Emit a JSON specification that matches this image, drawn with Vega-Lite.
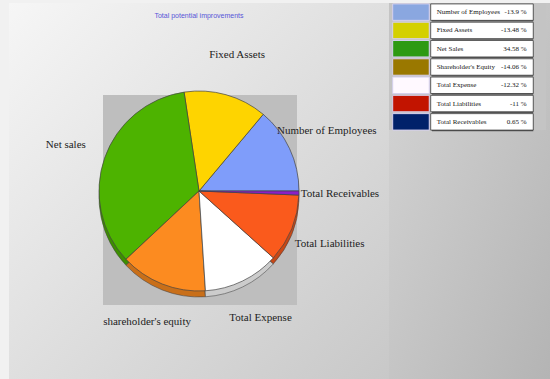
{
  "$schema": "https://vega.github.io/schema/vega-lite/v6.json",
  "background": "#f1f1f1",
  "padding": {"left": 9, "top": 3, "right": 0, "bottom": 0},
  "spacing": 0,
  "config": {"view": {"stroke": null}},
  "datasets": {
    "items": [
      {"name": "Number of Employees", "label": "Number of Employees", "value": 13.9, "pct": "-13.9 %", "k": 7},
      {"name": "Fixed Assets", "label": "Fixed Assets", "value": 13.48, "pct": "-13.48 %", "k": 6},
      {"name": "Net Sales", "label": "Net sales", "value": 34.58, "pct": "34.58 %", "k": 5},
      {"name": "Shareholder's Equity", "label": "shareholder's equity", "value": 14.06, "pct": "-14.06 %", "k": 4},
      {"name": "Total Expense", "label": "Total Expense", "value": 12.32, "pct": "-12.32 %", "k": 3},
      {"name": "Total Liabilities", "label": "Total Liabilities", "value": 11, "pct": "-11 %", "k": 2},
      {"name": "Total Receivables", "label": "Total Receivables", "value": 0.65, "pct": "0.65 %", "k": 1}
    ]
  },
  "resolve": {"scale": {"color": "independent", "fill": "independent", "x": "independent", "y": "independent", "theta": "independent"}},
  "hconcat": [
    {
      "width": 380,
      "height": 376,
      "title": {"text": "Total potential improvements", "offset": -23, "baseline": "bottom", "anchor": "middle", "frame": "group", "fontSize": 7, "fontWeight": "normal", "font": "Liberation Sans", "color": "#5656d8"},
      "layer": [
        {
          "data": {"values": [{}]},
          "mark": {"type": "rect", "fill": {"gradient": "linear", "x1": 0, "y1": 0, "x2": 1, "y2": 1, "stops": [{"offset": 0, "color": "#f6f6f6"}, {"offset": 1, "color": "#c8c8c8"}]}},
          "encoding": {}
        },
        {
          "data": {"values": [{}]},
          "mark": {"type": "point", "shape": "M-1.92,-1.92H1.96V2.28H-1.92Z", "size": 10000, "filled": true, "fill": "#bebebe", "opacity": 1, "strokeWidth": 0},
          "encoding": {}
        },
        {
          "data": {"name": "items"},
          "encoding": {
            "theta": {"field": "value", "type": "quantitative", "stack": true, "scale": {"range": [1.5707963, 7.8539816]}},
            "order": {"field": "k", "type": "quantitative"}
          },
          "layer": [
            {
              "mark": {"type": "arc", "outerRadius": 100, "yOffset": 6, "stroke": "#555555", "strokeWidth": 0.6},
              "encoding": {"color": {"field": "name", "type": "nominal", "legend": null, "scale": {"domain": ["Number of Employees", "Fixed Assets", "Net Sales", "Shareholder's Equity", "Total Expense", "Total Liabilities", "Total Receivables"], "range": ["#7f9dfa", "#fed400", "#4db300", "#fc8b20", "#ffffff", "#fa5a1c", "#8a1fc8"]}}}
            },
            {
              "mark": {"type": "arc", "outerRadius": 100, "yOffset": 6, "fill": "#000000", "fillOpacity": 0.2},
              "encoding": {"detail": {"field": "name"}}
            },
            {
              "mark": {"type": "arc", "outerRadius": 100, "stroke": "#444444", "strokeWidth": 0.7},
              "encoding": {"color": {"field": "name", "type": "nominal", "legend": null}}
            },
            {
              "mark": {"type": "text", "radius": 141, "font": "Liberation Serif", "fontSize": 11, "fill": "#222222", "baseline": "middle", "align": "center"},
              "encoding": {"text": {"field": "label"}, "detail": {"field": "name"}}
            }
          ]
        }
      ]
    },
    {
      "width": 161,
      "height": 376,
      "layer": [
        {
          "data": {"values": [{}]},
          "mark": {"type": "rect", "fill": {"gradient": "linear", "x1": 0, "y1": 0, "x2": 1, "y2": 1, "stops": [{"offset": 0, "color": "#d6d6d6"}, {"offset": 1, "color": "#b4b4b4"}]}},
          "encoding": {}
        },
        {
          "data": {"values": [{}]},
          "mark": {"type": "rect", "fill": "#c4c4c4", "y": 0, "y2": 127},
          "encoding": {
            "x": {"datum": 0, "type": "quantitative", "scale": {"domain": [0, 100], "nice": false, "zero": false}, "axis": null},
            "x2": {"datum": 97.5}
          }
        },
        {
          "data": {"name": "items"},
          "mark": {"type": "rect", "fill": "#5a5a5a", "xOffset": 1.2, "yOffset": 1.2},
          "encoding": {
            "x": {"datum": 25.9, "type": "quantitative", "scale": {"domain": [0, 100], "nice": false, "zero": false}, "axis": null},
            "x2": {"datum": 89.6},
            "y": {"field": "name", "type": "nominal", "sort": ["Number of Employees", "Fixed Assets", "Net Sales", "Shareholder's Equity", "Total Expense", "Total Liabilities", "Total Receivables"], "scale": {"range": [0, 128], "paddingInner": 0.1, "paddingOuter": 0.05}, "axis": null}
          }
        },
        {
          "data": {"name": "items"},
          "mark": {"type": "rect", "fill": "#ffffff", "stroke": "#3c3c3c", "strokeWidth": 0.8},
          "encoding": {
            "x": {"datum": 25.9, "type": "quantitative", "scale": {"domain": [0, 100], "nice": false, "zero": false}, "axis": null},
            "x2": {"datum": 89.6},
            "y": {"field": "name", "type": "nominal", "sort": ["Number of Employees", "Fixed Assets", "Net Sales", "Shareholder's Equity", "Total Expense", "Total Liabilities", "Total Receivables"], "axis": null}
          }
        },
        {
          "data": {"name": "items"},
          "mark": {"type": "rect", "stroke": "#d6d0ee", "strokeWidth": 1},
          "encoding": {
            "x": {"datum": 2.3, "type": "quantitative", "scale": {"domain": [0, 100], "nice": false, "zero": false}, "axis": null},
            "x2": {"datum": 25.0},
            "y": {"field": "name", "type": "nominal", "sort": ["Number of Employees", "Fixed Assets", "Net Sales", "Shareholder's Equity", "Total Expense", "Total Liabilities", "Total Receivables"], "axis": null},
            "fill": {"field": "name", "type": "nominal", "legend": null, "scale": {"domain": ["Number of Employees", "Fixed Assets", "Net Sales", "Shareholder's Equity", "Total Expense", "Total Liabilities", "Total Receivables"], "range": ["#8aa7e0", "#d4d000", "#2e9a12", "#9a7800", "#fff9ff", "#c21400", "#00216a"]}}
          }
        },
        {
          "data": {"name": "items"},
          "mark": {"type": "text", "align": "left", "baseline": "middle", "font": "Liberation Serif", "fontSize": 7, "fill": "#151515"},
          "encoding": {
            "x": {"datum": 29.6, "type": "quantitative", "scale": {"domain": [0, 100], "nice": false, "zero": false}, "axis": null},
            "y": {"field": "name", "type": "nominal", "sort": ["Number of Employees", "Fixed Assets", "Net Sales", "Shareholder's Equity", "Total Expense", "Total Liabilities", "Total Receivables"], "axis": null},
            "text": {"field": "name"}
          }
        },
        {
          "data": {"name": "items"},
          "mark": {"type": "text", "align": "right", "baseline": "middle", "font": "Liberation Serif", "fontSize": 7, "fill": "#151515"},
          "encoding": {
            "x": {"datum": 85.5, "type": "quantitative", "scale": {"domain": [0, 100], "nice": false, "zero": false}, "axis": null},
            "y": {"field": "name", "type": "nominal", "sort": ["Number of Employees", "Fixed Assets", "Net Sales", "Shareholder's Equity", "Total Expense", "Total Liabilities", "Total Receivables"], "axis": null},
            "text": {"field": "pct"}
          }
        }
      ]
    }
  ]
}
